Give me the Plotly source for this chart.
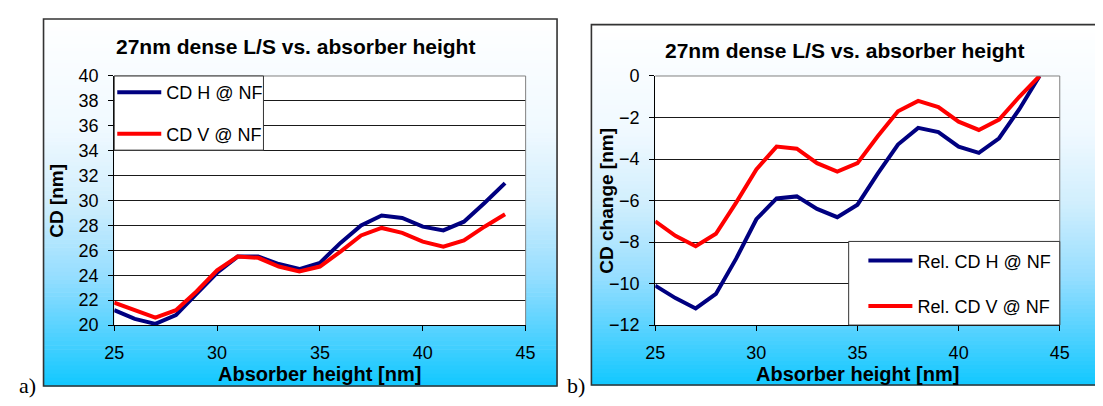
import plotly.graph_objects as go

# ---------------- data ----------------
absorber_height = [25, 26, 27, 28, 29, 30, 31, 32, 33, 34, 35, 36, 37, 38, 39, 40, 41, 42, 43, 44]
cd_h_nf = [21.2, 20.5, 20.1, 20.8, 22.5, 24.2, 25.5, 25.5, 24.9, 24.5, 25.0, 26.6, 28.0, 28.8, 28.6, 27.9, 27.6, 28.3, 29.8, 31.4]
cd_v_nf = [21.8, 21.2, 20.6, 21.2, 22.7, 24.4, 25.5, 25.4, 24.7, 24.3, 24.7, 25.9, 27.2, 27.8, 27.4, 26.7, 26.3, 26.8, 27.9, 28.9]
rel_cd_h_nf = [-10.1, -10.7, -11.2, -10.5, -8.8, -6.9, -5.9, -5.8, -6.4, -6.8, -6.2, -4.7, -3.3, -2.5, -2.7, -3.4, -3.7, -3.0, -1.6, 0.0]
rel_cd_v_nf = [-7.0, -7.7, -8.2, -7.6, -6.1, -4.5, -3.4, -3.5, -4.2, -4.6, -4.2, -2.9, -1.7, -1.2, -1.5, -2.2, -2.6, -2.1, -1.0, 0.0]
x_ticks = [25, 30, 35, 40, 45]
title_text = "27nm dense L/S vs. absorber height"

# ---------------- geometry helpers (page pixels; page body has an 8px margin) ----------------
W, H = 1103, 406
OFF = 8
def px(x):
    return (x - OFF) / W
def py(y):
    return 1 - (y - OFF) / H

FONT = "Arial, Liberation Sans, sans-serif"
SERIF = "Times New Roman, Liberation Serif, serif"
NAVY = "#000080"
RED = "#FF0000"
LW = 4

fig = go.Figure()
fig.add_trace(go.Scatter(x=absorber_height, y=cd_h_nf, mode="lines", name="CD H @ NF",
                         line=dict(color=NAVY, width=LW), xaxis="x", yaxis="y",
                         legend="legend", legendgroup="a1"))
fig.add_trace(go.Scatter(x=absorber_height, y=cd_v_nf, mode="lines", name="CD V @ NF",
                         line=dict(color=RED, width=LW), xaxis="x", yaxis="y",
                         legend="legend", legendgroup="a2"))
fig.add_trace(go.Scatter(x=absorber_height, y=rel_cd_h_nf, mode="lines", name="Rel. CD H @ NF",
                         line=dict(color=NAVY, width=LW), xaxis="x2", yaxis="y2",
                         legend="legend2", legendgroup="b1"))
fig.add_trace(go.Scatter(x=absorber_height, y=rel_cd_v_nf, mode="lines", name="Rel. CD V @ NF",
                         line=dict(color=RED, width=LW), xaxis="x2", yaxis="y2",
                         legend="legend2", legendgroup="b2"))

# ---------------- background gradient panels ----------------
def grad_color(t):
    stops = [(0.0, (255, 255, 255)), (0.3, (240, 249, 255)), (0.5, (208, 238, 253)),
             (0.7, (150, 222, 255)), (0.85, (85, 210, 255)), (1.0, (18, 200, 255))]
    for (t0, c0), (t1, c1) in zip(stops[:-1], stops[1:]):
        if t <= t1:
            f = (t - t0) / (t1 - t0)
            return "rgb(%d,%d,%d)" % tuple(round(a + (b - a) * f) for a, b in zip(c0, c1))
    return "rgb(%d,%d,%d)" % stops[-1][1]

shapes = []
N = 90
for (fx0, fy0, fx1, fy1) in [(34, 9, 557, 395), (592, 15, 1125, 394)]:
    for i in range(N):
        ya = fy0 + (fy1 - fy0) * i / N
        yb = fy0 + (fy1 - fy0) * (i + 1) / N
        shapes.append(dict(type="rect", xref="paper", yref="paper", layer="below",
                           x0=px(fx0), x1=px(fx1), y0=py(yb + 0.6), y1=py(ya),
                           line=dict(width=0), fillcolor=grad_color((i + 0.5) / N)))
    shapes.append(dict(type="rect", xref="paper", yref="paper", layer="above",
                       x0=px(fx0), x1=px(fx1), y0=py(fy1), y1=py(fy0),
                       line=dict(color="#333333", width=1.6), fillcolor="rgba(0,0,0,0)"))

# white plot areas
for (ax0, ax1) in [(106, 525), (657, 1069)]:
    shapes.append(dict(type="rect", xref="paper", yref="paper", layer="below",
                       x0=px(ax0), x1=px(ax1), y0=py(331), y1=py(69),
                       line=dict(width=0), fillcolor="white"))

# plot-area grey top/right border
for xr, yr in [("x domain", "y domain"), ("x2 domain", "y2 domain")]:
    shapes.append(dict(type="line", xref=xr, yref=yr, layer="above",
                       x0=0, x1=1, y0=1, y1=1, line=dict(color="#808080", width=1)))
    shapes.append(dict(type="line", xref=xr, yref=yr, layer="above",
                       x0=1, x1=1, y0=0, y1=1, line=dict(color="#808080", width=1)))

# legend boxes
shapes.append(dict(type="rect", xref="x domain", yref="y domain", layer="above",
                   x0=0, x1=(258 - 106) / 419, y0=(331 - 147) / 262, y1=1,
                   line=dict(color="#333333", width=1), fillcolor="white"))
shapes.append(dict(type="rect", xref="x2 domain", yref="y2 domain", layer="above",
                   x0=(854 - 657) / 412, x1=1, y0=0, y1=(331 - 243) / 262,
                   line=dict(color="#333333", width=1), fillcolor="white"))

# ---------------- text ----------------
def ann(text, x, y, size, bold=False, angle=0, family=FONT):
    return dict(text=("<b>%s</b>" % text) if bold else text, x=px(x), y=py(y),
                xref="paper", yref="paper", xanchor="center", yanchor="middle",
                showarrow=False, textangle=angle, font=dict(family=family, size=size, color="black"))

annotations = [
    ann(title_text, 291, 38, 21, bold=True),
    ann(title_text, 850, 42, 21, bold=True),
    ann("CD [nm]", 47, 200, 19, bold=True, angle=-90),
    ann("CD change [nm]", 607, 200, 19, bold=True, angle=-90),
    ann("Absorber height [nm]", 315, 382, 20, bold=True),
    ann("Absorber height [nm]", 863, 382, 20, bold=True),
    ann("a)", 18, 395, 22, family=SERIF),
    ann("b)", 576, 395, 22, family=SERIF),
]

axis_common = dict(ticks="outside", ticklen=5, tickcolor="black", tickwidth=1,
                   showline=True, linecolor="black", linewidth=1, mirror=False,
                   zeroline=False, tickfont=dict(family=FONT, size=18, color="black"))
xa = dict(axis_common, range=[25, 45], tickvals=x_ticks, showgrid=False, ticklabelstandoff=6)
ya_ = dict(axis_common, showgrid=True, gridcolor="#1a1a1a", gridwidth=1, dtick=2,
           ticklabelstandoff=6)

legend_common = dict(bgcolor="rgba(0,0,0,0)", borderwidth=0, xanchor="left", yanchor="top",
                     font=dict(family=FONT, size=18, color="black"),
                     itemwidth=44, traceorder="grouped")

fig.update_layout(
    width=W, height=H, margin=dict(l=0, r=0, t=0, b=0),
    paper_bgcolor="white", plot_bgcolor="rgba(0,0,0,0)",
    showlegend=True,
    xaxis=dict(xa, domain=[px(106), px(525)], anchor="y"),
    yaxis=dict(ya_, domain=[py(331), py(69)], range=[20, 40], anchor="x"),
    xaxis2=dict(xa, domain=[px(657), px(1069)], anchor="y2"),
    yaxis2=dict(ya_, domain=[py(331), py(69)], range=[-12, 0], anchor="x2"),
    legend=dict(legend_common, x=px(104), y=py(67), tracegroupgap=15),
    legend2=dict(legend_common, x=px(869), y=py(244), tracegroupgap=19),
    shapes=shapes,
    annotations=annotations,
)

fig.write_html("out.html")
